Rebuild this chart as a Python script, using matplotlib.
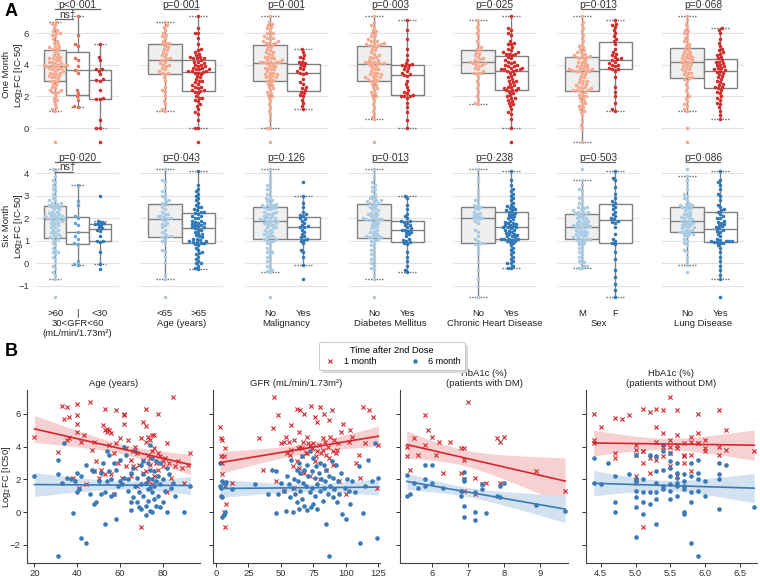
import numpy as np
import matplotlib
matplotlib.use("Agg")
import matplotlib.pyplot as plt
from matplotlib.lines import Line2D

plt.rcParams['font.family'] = ['Liberation Sans', 'DejaVu Sans']

# ---------------- Panel A data : one month Log2FC [IC-50] ----------------
m1_gfr_gt60 = [6.7, 6.6, 6.5, 6.3, 6.2, 6.1, 6.0, 6.0, 5.9, 5.8, 5.6, 5.5, 5.4, 5.3, 5.2, 5.1, 5.1, 5.0, 5.0,
               4.9, 4.8, 4.7, 4.6, 4.5, 4.5, 4.4, 4.4, 4.3, 4.3, 4.2, 4.2, 4.1, 4.1, 4.0, 4.0, 4.0, 3.95, 3.9,
               3.9, 3.85, 3.8, 3.8, 3.7, 3.7, 3.6, 3.6, 3.5, 3.5, 3.4, 3.4, 3.3, 3.3, 3.2, 3.2, 3.1, 3.0, 3.0,
               2.9, 2.8, 2.7, 2.6, 2.5, 2.4, 2.4, 2.3, 2.3, 2.2, 2.0, 1.9, 1.8, 1.7, 1.5, 1.3, 1.2, 1.1, -0.9]
m1_gfr_30_60 = [7.1, 5.9, 5.3, 5.2, 4.4, 4.3, 3.9, 3.65, 3.5, 2.4, 2.2, 2.0, 1.8, 1.4, 1.35]
m1_gfr_lt30 = [5.3, 4.5, 4.3, 3.7, 3.7, 3.6, 3.4, 3.1, 3.05, 3.0, 2.4, 1.9, 1.85, 1.85, 0.5, 0.0, 0.0, -0.9]
m1_age_lt65 = [6.7, 6.5, 6.4, 6.2, 6.0, 5.9, 5.8, 5.7, 5.5, 5.4, 5.4, 5.3, 5.2, 5.1, 5.0, 4.9, 4.8, 4.7, 4.6,
               4.5, 4.4, 4.35, 4.3, 4.2, 4.1, 4.0, 4.0, 3.9, 3.8, 3.7, 3.6, 3.5, 3.45, 3.4, 3.2, 3.0, 2.6,
               2.4, 2.3, 2.0, 1.7, 1.5, 1.2, 1.1]
m1_age_gt65 = [7.1, 6.3, 6.0, 6.0, 5.7, 5.3, 5.0, 4.9, 4.8, 4.7, 4.6, 4.5, 4.5, 4.4, 4.4, 4.4,
               4.3, 4.2, 4.2, 4.1, 4.0, 4.0, 3.9, 3.9, 3.8, 3.8, 3.7, 3.7, 3.7, 3.6, 3.6, 3.6, 3.55,
               3.5, 3.5, 3.4, 3.3, 3.2, 3.1, 3.0, 3.0, 2.9, 2.8, 2.7, 2.6, 2.6, 2.5, 2.4, 2.4, 2.35,
               2.3, 2.2, 2.0, 1.9, 1.9, 1.8, 1.7, 1.5, 1.4, 1.2, 1.0, 0.9, 0.5, 0.0, 0.0, -0.9]
m1_malig_no = [7.1, 6.7, 6.6, 6.5, 6.4, 6.3, 6.2, 6.0, 6.0, 5.9, 5.8, 5.7, 5.7, 5.6, 5.5, 5.5, 5.4, 5.4, 5.35, 5.3,
               5.2, 5.1, 5.0, 4.9, 4.8, 4.8, 4.7, 4.6, 4.5, 4.5, 4.4, 4.4, 4.3, 4.3, 4.2, 4.2, 4.2, 4.15, 4.15, 4.1,
               4.1, 4.0, 3.9, 3.9, 3.8, 3.8, 3.7, 3.7, 3.6, 3.5, 3.5, 3.4, 3.4, 3.3, 3.3, 3.2, 3.2, 3.1, 3.05, 3.0,
               2.9, 2.8, 2.7, 2.6, 2.5, 2.4, 2.3, 2.2, 2.1, 2.0, 1.9, 1.7, 1.5, 1.3, 1.1, 0.9, 0.5, 0.0, 0.0, -0.9]
m1_malig_yes = [5.0, 4.8, 4.6, 4.5, 4.4, 4.2, 4.15, 4.1, 4.0, 3.9, 3.8, 3.7, 3.6, 3.5, 3.5,
                3.4, 3.1, 2.9, 2.8, 2.6, 2.5, 2.4, 2.3, 2.2, 2.1, 2.0, 1.8, 1.6, 1.4, 1.2]
m1_dm_no = [7.1, 6.7, 6.5, 6.4, 6.2, 6.1, 6.0, 5.9, 5.8, 5.7, 5.6, 5.5, 5.5, 5.4, 5.4, 5.3, 5.3, 5.25, 5.25,
            5.2, 5.1, 5.0, 4.9, 4.8, 4.7, 4.6, 4.5, 4.5, 4.4, 4.3, 4.3, 4.2, 4.2, 4.15, 4.1, 4.1, 4.1, 4.1,
            4.0, 3.95, 3.9, 3.8, 3.7, 3.7, 3.6, 3.5, 3.5, 3.4, 3.4, 3.3, 3.3, 3.2, 3.2, 3.1, 3.1, 3.05, 3.0,
            2.9, 2.8, 2.7, 2.6, 2.5, 2.4, 2.3, 2.2, 2.1, 2.0, 1.9, 1.7, 1.5, 1.3, 1.1, 0.9, 0.7, 0.55, -0.9]
m1_dm_yes = [6.8, 6.2, 5.6, 5.0, 4.6, 4.3, 4.1, 4.05, 4.0, 4.0, 3.9, 3.8, 3.7, 3.6, 3.5, 3.4, 3.35,
             3.3, 3.0, 2.8, 2.6, 2.4, 2.3, 2.2, 2.1, 2.05, 2.0, 2.0, 1.9, 1.6, 1.3, 1.0, 0.5, 0.0]
m1_chd_no = [6.8, 6.6, 6.4, 6.2, 6.0, 5.8, 5.5, 5.3, 5.1, 5.0, 4.9, 4.8, 4.7, 4.6, 4.5, 4.4, 4.35, 4.3, 4.2, 4.2,
             4.1, 4.1, 4.0, 4.0, 3.9, 3.8, 3.7, 3.6, 3.5, 3.5, 3.4, 3.2, 3.0, 2.8, 2.5, 2.3, 2.0, 1.8, 1.6, 1.5]
m1_chd_yes = [7.1, 6.3, 6.2, 6.0, 5.9, 5.5, 5.4, 5.3, 5.3, 5.1, 5.0, 4.9, 4.8, 4.8, 4.7, 4.7, 4.7,
              4.6, 4.5, 4.4, 4.3, 4.2, 4.2, 4.1, 4.0, 4.0, 3.9, 3.9, 3.8, 3.8, 3.7, 3.7, 3.7, 3.65, 3.6,
              3.6, 3.5, 3.4, 3.3, 3.2, 3.1, 3.0, 3.0, 2.9, 2.8, 2.7, 2.6, 2.6, 2.5, 2.5, 2.4, 2.4, 2.4,
              2.3, 2.2, 2.1, 2.0, 1.9, 1.9, 1.8, 1.7, 1.6, 1.5, 1.4, 1.2, 1.0, 0.9, 0.55, 0.0, -0.9]
m1_sex_m = [7.1, 6.7, 6.5, 6.3, 6.1, 5.9, 5.7, 5.5, 5.3, 5.2, 5.1, 5.0, 4.9, 4.8, 4.8, 4.7, 4.6, 4.6, 4.55, 4.5,
            4.5, 4.4, 4.4, 4.3, 4.2, 4.2, 4.1, 4.0, 4.0, 3.9, 3.9, 3.8, 3.8, 3.75, 3.7, 3.7, 3.65, 3.6, 3.6, 3.6,
            3.6, 3.5, 3.4, 3.3, 3.2, 3.1, 3.0, 3.0, 2.9, 2.8, 2.8, 2.7, 2.6, 2.6, 2.5, 2.5, 2.4, 2.4, 2.4, 2.35,
            2.3, 2.2, 2.1, 2.0, 2.0, 1.9, 1.8, 1.7, 1.6, 1.5, 1.4, 1.3, 1.2, 1.1, 1.0, 0.8, 0.5, 0.2, 0.0, -0.9]
m1_sex_f = [6.8, 6.6, 6.5, 6.4, 6.2, 6.0, 5.8, 5.65, 5.5, 5.3, 5.0, 4.8, 4.7, 4.6, 4.5, 4.4, 4.35,
            4.3, 4.2, 4.1, 4.0, 4.0, 3.9, 3.8, 3.7, 3.7, 3.6, 3.2, 2.6, 2.3, 2.0, 1.6, 1.2, 1.1]
m1_lung_no = [7.1, 6.8, 6.6, 6.4, 6.2, 6.1, 6.0, 5.9, 5.7, 5.6, 5.5, 5.4, 5.3, 5.2, 5.1,
              5.0, 4.9, 4.8, 4.8, 4.7, 4.6, 4.6, 4.5, 4.5, 4.4, 4.4, 4.3, 4.3, 4.2, 4.2,
              4.1, 4.1, 4.0, 3.9, 3.9, 3.8, 3.7, 3.7, 3.6, 3.5, 3.5, 3.4, 3.3, 3.2, 3.15,
              3.1, 3.0, 2.8, 2.6, 2.4, 2.2, 2.0, 1.9, 1.7, 1.5, 1.4, 1.2, 1.1, 0.0, -0.9]
m1_lung_yes = [6.3, 6.2, 6.0, 5.6, 5.4, 5.2, 5.0, 4.9, 4.8, 4.7, 4.6, 4.5,
               4.4, 4.3, 4.2, 4.2, 4.1, 4.0, 4.0, 3.9, 3.8, 3.8, 3.7, 3.65, 3.6,
               3.55, 3.5, 3.4, 3.3, 3.2, 3.1, 3.0, 2.9, 2.8, 2.7, 2.6, 2.6, 2.5,
               2.4, 2.3, 2.2, 2.0, 1.9, 1.8, 1.6, 1.5, 1.3, 1.1, 0.8, 0.55]

# ---------------- Panel A data : six month Log2FC [IC-50] ----------------
m6_gfr_gt60 = [4.2, 4.1, 3.9, 3.7, 3.6, 3.5, 3.4, 3.3, 3.2, 3.1, 3.0, 2.9, 2.8, 2.8, 2.7, 2.7, 2.65, 2.6, 2.6,
               2.55, 2.5, 2.5, 2.4, 2.4, 2.3, 2.3, 2.25, 2.2, 2.2, 2.15, 2.1, 2.1, 2.1, 2.05, 2.0, 2.0, 2.0, 2.0,
               1.95, 1.9, 1.9, 1.85, 1.8, 1.8, 1.7, 1.7, 1.6, 1.6, 1.5, 1.5, 1.4, 1.4, 1.3, 1.3, 1.2, 1.2, 1.15,
               1.1, 1.1, 1.0, 0.9, 0.8, 0.7, 0.6, 0.5, 0.5, 0.4, 0.3, 0.2, 0.0, -0.1, -0.2, -0.4, -0.5, -0.7, -1.5]
m6_gfr_30_60 = [3.5, 2.75, 2.6, 2.1, 2.0, 1.8, 1.7, 1.4, 1.2, 1.1, 0.9, 0.85, 0.1, -0.05, -0.08]
m6_gfr_lt30 = [3.0, 1.9, 1.85, 1.8, 1.75, 1.75, 1.7, 1.6, 1.55, 1.5, 1.45, 1.2, 1.0, 1.0, 0.95, 0.5, -0.05, -0.25]
m6_age_lt65 = [4.2, 3.7, 3.6, 3.4, 3.2, 3.1, 3.0, 2.9, 2.8, 2.75, 2.7,
               2.6, 2.5, 2.4, 2.3, 2.2, 2.2, 2.1, 2.1, 2.05, 2.0, 2.0,
               1.95, 1.9, 1.8, 1.75, 1.7, 1.6, 1.5, 1.4, 1.3, 1.2, 1.2,
               1.15, 1.1, 1.0, 0.9, 0.6, 0.5, 0.3, 0.0, -0.5, -0.7, -1.5]
m6_age_gt65 = [4.1, 3.5, 3.3, 3.2, 3.1, 3.0, 2.9, 2.8, 2.7, 2.6, 2.5, 2.5, 2.4, 2.35, 2.3, 2.3,
               2.25, 2.2, 2.1, 2.1, 2.0, 2.0, 1.9, 1.9, 1.85, 1.8, 1.8, 1.75, 1.7, 1.7, 1.65, 1.6, 1.6,
               1.55, 1.5, 1.5, 1.4, 1.35, 1.3, 1.25, 1.2, 1.15, 1.1, 1.1, 1.05, 1.0, 1.0, 0.95, 0.95, 0.9,
               0.9, 0.85, 0.8, 0.7, 0.6, 0.5, 0.45, 0.4, 0.3, 0.2, 0.1, 0.0, 0.0, -0.1, -0.2, -0.25]
m6_malig_no = [4.2, 4.0, 3.8, 3.6, 3.5, 3.4, 3.3, 3.2, 3.1, 3.0, 2.9, 2.85, 2.8, 2.75, 2.7, 2.65, 2.6, 2.6, 2.6, 2.55,
               2.5, 2.5, 2.45, 2.4, 2.4, 2.3, 2.3, 2.25, 2.2, 2.2, 2.1, 2.1, 2.05, 2.0, 2.0, 1.95, 1.95, 1.9, 1.9, 1.9,
               1.85, 1.8, 1.8, 1.75, 1.7, 1.7, 1.6, 1.6, 1.55, 1.5, 1.5, 1.4, 1.4, 1.3, 1.3, 1.2, 1.2, 1.15, 1.1, 1.1,
               1.05, 1.0, 1.0, 0.9, 0.8, 0.7, 0.6, 0.5, 0.5, 0.4, 0.3, 0.2, 0.1, 0.0, -0.1, -0.2, -0.3, -0.35, -0.4, -1.5]
m6_malig_yes = [3.6, 3.0, 2.7, 2.5, 2.3, 2.2, 2.15, 2.1, 2.0, 1.95, 1.9, 1.8, 1.7, 1.65, 1.6,
                1.6, 1.5, 1.4, 1.3, 1.2, 1.15, 1.1, 1.05, 1.0, 0.9, 0.6, 0.5, 0.3, -0.08, -0.71]
m6_dm_no = [4.2, 4.0, 3.8, 3.6, 3.5, 3.4, 3.3, 3.2, 3.1, 3.0, 2.95, 2.9, 2.85, 2.8, 2.8, 2.75, 2.7, 2.7, 2.7,
            2.6, 2.55, 2.5, 2.45, 2.4, 2.35, 2.3, 2.25, 2.2, 2.2, 2.15, 2.1, 2.05, 2.0, 2.0, 1.95, 1.95, 1.95, 1.92,
            1.9, 1.85, 1.8, 1.75, 1.7, 1.65, 1.6, 1.55, 1.5, 1.45, 1.4, 1.35, 1.3, 1.25, 1.2, 1.2, 1.15, 1.15, 1.15,
            1.1, 1.05, 1.0, 0.9, 0.8, 0.7, 0.6, 0.5, 0.4, 0.3, 0.2, 0.1, 0.0, -0.1, -0.2, -0.3, -0.5, -0.7, -1.5]
m6_dm_yes = [3.0, 2.9, 2.6, 2.4, 2.2, 2.1, 2.0, 1.9, 1.9, 1.85, 1.8, 1.7, 1.7, 1.6, 1.55, 1.5, 1.5,
             1.45, 1.4, 1.35, 1.3, 1.2, 1.1, 1.05, 1.0, 0.95, 0.9, 0.85, 0.5, 0.3, 0.1, -0.1, -0.3, -0.4]
m6_chd_no = [4.2, 3.8, 3.6, 3.3, 3.1, 2.9, 2.8, 2.7, 2.6, 2.55, 2.5, 2.45, 2.4, 2.3, 2.25, 2.2, 2.15, 2.1, 2.05, 2.0,
             2.0, 1.95, 1.9, 1.8, 1.5, 1.4, 1.2, 1.1, 1.0, 0.9, 0.9, 0.85, 0.8, 0.6, 0.4, 0.1, -0.3, -0.7, -1.0, -1.5]
m6_chd_yes = [4.1, 3.7, 3.5, 3.3, 3.2, 3.1, 3.0, 2.9, 2.8, 2.7, 2.6, 2.55, 2.5, 2.45, 2.4, 2.35, 2.35,
              2.3, 2.25, 2.2, 2.15, 2.1, 2.05, 2.0, 1.95, 1.9, 1.85, 1.8, 1.8, 1.75, 1.7, 1.7, 1.65, 1.6, 1.6,
              1.6, 1.55, 1.5, 1.5, 1.45, 1.4, 1.35, 1.3, 1.3, 1.25, 1.2, 1.2, 1.15, 1.1, 1.1, 1.1, 1.1, 1.05,
              1.0, 1.0, 0.95, 0.9, 0.8, 0.7, 0.6, 0.5, 0.4, 0.3, 0.2, 0.1, 0.0, 0.0, -0.1, -0.2, -0.22]
m6_sex_m = [4.2, 3.7, 3.5, 3.3, 3.2, 3.0, 2.9, 2.8, 2.7, 2.6, 2.5, 2.5, 2.45, 2.4, 2.35, 2.3, 2.3, 2.3, 2.25,
            2.2, 2.2, 2.15, 2.1, 2.05, 2.0, 2.0, 1.95, 1.9, 1.9, 1.85, 1.8, 1.8, 1.75, 1.7, 1.7, 1.7, 1.65, 1.65,
            1.6, 1.6, 1.55, 1.5, 1.5, 1.45, 1.4, 1.4, 1.35, 1.3, 1.3, 1.25, 1.2, 1.2, 1.15, 1.1, 1.1, 1.1, 1.1,
            1.05, 1.0, 0.95, 0.9, 0.85, 0.8, 0.7, 0.6, 0.5, 0.4, 0.3, 0.2, 0.1, 0.05, 0.0, -0.1, -0.1, -0.2, -0.22]
m6_sex_f = [4.1, 3.8, 3.7, 3.4, 3.1, 2.9, 2.75, 2.7, 2.6, 2.5, 2.4, 2.3, 2.2, 2.1, 2.0, 1.95,
            1.9, 1.85, 1.8, 1.6, 1.3, 1.1, 1.0, 0.9, 0.85, 0.5, 0.2, -0.3, -0.6, -0.9, -1.2, -1.5]
m6_lung_no = [4.2, 3.9, 3.7, 3.5, 3.3, 3.1, 3.0, 2.9, 2.8, 2.7, 2.65, 2.6, 2.6, 2.55, 2.5,
              2.5, 2.45, 2.4, 2.35, 2.3, 2.25, 2.2, 2.15, 2.1, 2.05, 2.0, 2.0, 1.95, 1.9, 1.9,
              1.85, 1.8, 1.8, 1.75, 1.7, 1.7, 1.65, 1.6, 1.6, 1.55, 1.5, 1.5, 1.45, 1.4, 1.4,
              1.35, 1.3, 1.3, 1.25, 1.2, 1.1, 1.0, 0.9, 0.8, 0.6, 0.5, 0.3, 0.1, -0.08, -0.4]
m6_lung_yes = [4.1, 3.7, 3.6, 3.5, 3.3, 3.1, 3.0, 2.8, 2.6, 2.5, 2.4, 2.35,
               2.3, 2.2, 2.1, 2.0, 2.0, 1.9, 1.85, 1.8, 1.75, 1.7, 1.65, 1.6, 1.55,
               1.5, 1.45, 1.4, 1.3, 1.2, 1.1, 1.05, 1.0, 1.0, 1.0, 1.0, 0.95, 0.95,
               0.9, 0.9, 0.8, 0.7, 0.5, 0.3, 0.1, -0.1, -0.3, -0.5, -0.71, -1.5]

tick_labels = [[">60", "|", "<30"], ["<65", ">65"], ["No", "Yes"], ["No", "Yes"],
               ["No", "Yes"], ["M", "F"], ["No", "Yes"]]
x_titles = ["30<GFR<60\n(mL/min/1.73m²)", "Age (years)", "Malignancy", "Diabetes Mellitus",
            "Chronic Heart Disease", "Sex", "Lung Disease"]
p_one = ["p<0·001", "p=0·001", "p=0·001", "p=0·003", "p=0·025", "p=0·013", "p=0·068"]
p_six = ["p=0·020", "p=0·043", "p=0·126", "p=0·013", "p=0·238", "p=0·503", "p=0·086"]

groups_one = [[m1_gfr_gt60, m1_gfr_30_60, m1_gfr_lt30], [m1_age_lt65, m1_age_gt65],
              [m1_malig_no, m1_malig_yes], [m1_dm_no, m1_dm_yes], [m1_chd_no, m1_chd_yes],
              [m1_sex_m, m1_sex_f], [m1_lung_no, m1_lung_yes]]
groups_six = [[m6_gfr_gt60, m6_gfr_30_60, m6_gfr_lt30], [m6_age_lt65, m6_age_gt65],
              [m6_malig_no, m6_malig_yes], [m6_dm_no, m6_dm_yes], [m6_chd_no, m6_chd_yes],
              [m6_sex_m, m6_sex_f], [m6_lung_no, m6_lung_yes]]

# ---------------- Panel B data ----------------
age_1m_x = [20, 31, 33, 34, 35, 35, 36, 36, 38, 40, 40, 40, 40, 41, 42, 43, 44, 46, 47, 48, 48, 49, 50, 51, 52,
            53, 53, 53, 54, 54, 55, 55, 56, 56, 57, 57, 58, 58, 59, 60, 61, 62, 62, 62, 63, 63, 64, 65, 65, 66,
            66, 67, 67, 68, 68, 69, 70, 70, 71, 71, 71, 72, 72, 72, 72, 73, 73, 73, 74, 74, 74, 75, 75, 75, 76,
            76, 76, 77, 78, 78, 78, 79, 80, 80, 81, 82, 82, 83, 84, 85, 86, 87, 89, 90, 93, 92]
age_1m_y = [4.6, 3.65, 6.5, 5.7, 6.4, 4.4, 5.8, 4.5, 2.1, 6.6, 5.9, 5.35, 4.9, 1.5, 4.3, 4.7, 1.7, 6.7, 3.8, 4.3,
            2.5, 3.1, 2.1, 2.6, 5.3, 6.3, 5.0, 2.3, 4.9, 5.1, 5.0, 4.1, 4.8, 2.3, 3.6, 1.1, 6.2, 4.2, 3.0, 4.5,
            2.1, 5.95, 6.0, 5.4, 3.9, 2.8, 4.4, 3.2, 2.2, 3.7, 2.8, 4.0, 2.7, 3.6, 1.6, 2.9, -0.9, 4.5, 5.5, 3.2,
            2.4, 6.3, 5.25, 4.3, 2.5, 4.6, 3.5, 1.9, 4.4, 3.3, 2.9, 4.7, 3.7, 1.7, 4.7, 3.9, 2.2, 3.0, 6.0, 3.6,
            2.6, 3.4, 3.1, 2.8, 3.3, 4.2, 1.2, 3.0, 2.1, 7.0, 2.8, 3.1, 2.7, 1.8, 3.6, 2.9]
age_6m_x = [20, 31, 31, 31, 33, 34, 35, 37, 38, 39, 40, 40, 41, 42, 42, 44, 44, 46, 47, 48, 48, 49, 50, 51, 51,
            52, 53, 53, 54, 54, 55, 55, 56, 56, 57, 57, 58, 58, 59, 60, 60, 61, 62, 62, 63, 64, 64, 65, 65, 65,
            66, 66, 67, 67, 68, 68, 69, 69, 70, 70, 70, 71, 71, 71, 72, 72, 72, 73, 73, 73, 73, 74, 74, 74, 74,
            75, 75, 75, 75, 76, 76, 76, 77, 77, 77, 78, 78, 79, 79, 79, 80, 80, 81, 82, 82, 83, 84, 85, 86, 90, 93]
age_6m_y = [2.2, 3.2, -2.7, 2.3, 1.75, 4.2, 2.1, 2.0, -0.05, 1.9, 2.4, 1.2, 1.4, -1.55, 2.2, -1.9, 2.9, 1.1, 2.6,
            0.5, 2.5, 0.6, 1.9, 2.4, 1.1, 3.0, -0.7, 1.2, 3.7, 1.9, 3.5, 2.5, 1.0, 2.0, 3.0, 1.1, -0.4, 2.6, 1.6,
            3.2, 1.9, 1.7, 2.1, 4.0, 3.5, 2.0, 1.3, 0.15, 0.6, 2.4, 2.7, 0.9, 1.6, 3.7, 0.6, 2.1, 0.3, 1.2, 2.9,
            0.2, 1.7, 3.1, 2.3, 1.0, -0.2, 0.4, 1.8, 3.0, 2.1, 1.4, 0.7, 4.1, 2.6, 1.5, 0.1, 3.3, 2.0, 1.2, 0.0,
            2.5, 1.6, 0.8, 3.1, 1.9, 0.4, 2.2, 1.0, 3.0, 1.7, 0.3, 2.0, 0.6, 1.3, 2.7, 0.0, 2.3, 1.5, 1.8, 1.0,
            0.0, 1.6]

gfr_1m_x = [3, 4, 4, 5, 5, 5, 6, 6, 7, 7, 7, 8, 12, 33, 36, 44, 45, 46, 48, 50, 52, 52, 54, 55, 56, 57, 58, 58,
            59, 60, 60, 62, 62, 63, 64, 64, 65, 65, 66, 66, 67, 68, 68, 69, 70, 70, 71, 72, 72, 73, 74, 74, 75,
            76, 76, 77, 78, 78, 79, 80, 80, 81, 82, 82, 83, 84, 85, 85, 86, 87, 87, 88, 89, 90, 90, 91, 92, 93,
            94, 95, 96, 98, 100, 102, 103, 105, 108, 110, 111, 113, 115, 118, 121, 124, 125]
gfr_1m_y = [5.2, 4.5, 3.4, 4.4, 3.0, 2.3, 3.4, 0.0, 1.6, -0.9, 3.9, 0.5, 1.8, 4.5, 2.6, 5.15, 7.0, 1.9, 5.9, 4.2,
            4.3, 1.3, 4.6, 3.6, 4.3, 3.5, 3.8, 5.3, 2.8, 4.4, 1.5, 6.3, 3.1, 3.9, 4.9, 2.7, 6.2, 4.0, 3.9, 3.4,
            4.3, 6.0, 2.4, 3.6, 4.6, 3.6, 4.2, 4.1, 2.2, 6.5, 3.9, 3.9, 4.2, 5.8, 3.1, 3.4, 5.5, 3.7, 4.1, 6.4,
            2.0, 3.6, 4.5, 3.8, 6.0, 4.3, 3.5, 2.6, 4.0, 5.6, 3.3, 4.6, 6.2, 3.7, 2.9, 4.4, 3.6, 3.8, 4.2, 1.9,
            4.9, 5.4, 1.1, 4.3, 5.0, 4.6, 3.0, 3.5, 2.1, 6.4, 4.2, 6.2, 5.8, 1.5, 4.1]
gfr_6m_x = [3, 3, 4, 4, 5, 5, 5, 6, 6, 7, 7, 8, 12, 30, 40, 43, 46, 46, 48, 50, 52, 54, 55, 56, 57, 58, 59, 59,
            60, 61, 62, 62, 63, 64, 64, 65, 65, 66, 66, 67, 68, 68, 69, 70, 70, 71, 72, 72, 73, 74, 74, 75, 75,
            76, 76, 77, 78, 78, 79, 80, 80, 81, 82, 83, 83, 84, 85, 85, 86, 87, 87, 88, 89, 90, 90, 91, 92, 93,
            94, 95, 96, 97, 99, 100, 101, 102, 103, 105, 107, 110, 111, 113, 115, 117, 120, 122, 124, 125]
gfr_6m_y = [3.0, 1.6, 1.5, 1.0, 1.9, 0.9, -0.3, -0.15, 1.8, 0.0, 1.7, 1.85, 1.4, 1.7, 1.1, 2.6, 2.5, -0.05, 1.1,
            1.8, 1.3, 0.1, 2.2, 1.7, 0.9, 3.2, 1.5, 0.0, 2.0, 1.1, 2.6, 0.6, 1.9, 3.0, 0.2, 2.4, 1.3, 3.4, 0.8,
            1.8, 2.6, 0.4, 1.6, 2.9, 0.15, 2.2, 3.7, 1.2, 0.3, 2.5, 1.5, 3.3, 0.5, 2.1, 1.0, 2.8, 1.7, 0.2, 2.4,
            3.0, 1.3, 2.0, 0.7, 2.9, 1.5, 1.9, -0.7, 2.6, 1.1, -2.7, 2.2, 1.6, 3.1, 2.1, 0.9, 1.4, 2.9, 0.6, 1.9,
            1.1, 2.4, -0.1, 1.5, -0.4, 2.0, 1.3, 0.5, 1.9, 1.2, 2.8, -1.9, -0.05, 1.6, 3.2, 1.9, 4.2, -1.55, 2.1]

dm_1m_x = [5.3, 5.3, 5.4, 5.5, 5.6, 5.8, 5.8, 6.0, 6.1, 6.3, 6.5, 6.8, 6.8, 6.9, 6.9, 6.9, 6.9, 7.0, 7.2, 7.2,
           7.5, 7.8, 7.9, 7.9, 8.0, 8.9, 9.7, 7.4, 5.9, 6.2]
dm_1m_y = [4.0, 3.4, 2.6, 4.5, 3.5, 4.1, 5.9, 4.6, 3.5, 2.4, 4.3, 3.9, 2.4, 3.9, 3.2, 2.0, 1.3, 6.7, 2.1, 1.1,
           1.8, 4.5, 4.3, 1.8, 4.6, 2.5, 1.3, 1.7, 5.0, 4.3]
dm_6m_x = [5.3, 5.3, 5.4, 5.5, 5.6, 5.8, 5.8, 5.8, 6.0, 6.0, 6.3, 6.8, 6.8, 6.9, 6.9, 6.9, 6.9, 6.9, 7.2, 7.2,
           7.2, 7.4, 7.4, 7.5, 7.8, 7.9, 7.9, 8.0, 8.9, 9.7]
dm_6m_y = [2.25, 1.0, 1.1, 1.8, 1.5, 2.9, 2.0, 1.6, 2.85, 1.8, 1.45, 1.3, 1.0, 2.45, 2.0, 1.9, 0.4, -0.3, 1.2, 0.0,
           -0.45, 1.7, 1.4, -0.05, 1.0, 0.9, 1.6, 1.8, 0.45, 0.1]

nodm_1m_x = [4.4, 4.4, 4.4, 4.5, 4.7, 4.7, 4.7, 4.8, 4.9, 5.0, 5.0, 5.0, 5.0, 5.1, 5.1, 5.1, 5.1, 5.1, 5.2, 5.2,
             5.3, 5.3, 5.3, 5.3, 5.4, 5.4, 5.4, 5.4, 5.5, 5.5, 5.5, 5.5, 5.5, 5.6, 5.6, 5.6, 5.6, 5.7, 5.7, 5.7,
             5.7, 5.8, 5.8, 5.8, 5.8, 5.9, 5.9, 5.9, 5.9, 6.0, 6.0, 6.2, 6.2, 6.2, 6.3, 6.3, 6.0, 6.7, 5.2, 5.0, 5.6]
nodm_1m_y = [6.0, 4.4, 4.2, 5.2, 5.75, 3.6, 3.3, 5.7, 5.9, 4.1, 3.5, 2.2, 1.8, 6.3, 3.7, 3.7, 3.0, -0.9, 6.1, 3.3,
             6.3, 4.3, 5.2, 3.2, 6.2, 4.0, 4.8, 3.4, 7.0, 3.6, 4.4, 4.0, 2.8, 6.2, 4.1, 4.7, 3.9, 3.5, 3.4, 4.2,
             3.0, 4.6, 4.3, 3.5, 2.5, 6.0, 4.2, 4.8, 4.2, 4.4, 3.7, 6.2, 3.5, 4.0, 5.0, 3.8, 3.9, 3.7, 2.4, 3.8, 2.2]
nodm_6m_x = [4.4, 4.4, 4.5, 4.6, 4.7, 4.7, 4.7, 4.9, 5.0, 5.0, 5.0, 5.0, 5.0, 5.0, 5.1, 5.1, 5.1, 5.1, 5.2, 5.2,
             5.2, 5.3, 5.3, 5.3, 5.3, 5.3, 5.3, 5.4, 5.4, 5.4, 5.4, 5.5, 5.5, 5.5, 5.5, 5.5, 5.5, 5.6, 5.6, 5.6,
             5.6, 5.6, 5.6, 5.7, 5.7, 5.7, 5.7, 5.7, 5.7, 5.8, 5.8, 5.8, 5.8, 5.9, 5.9, 5.9, 5.9, 5.9, 6.0, 6.0,
             6.2, 6.2, 6.2, 6.2, 6.3, 6.7, 5.4, 5.5, 5.8, 5.0]
nodm_6m_y = [3.3, 1.8, 1.7, 3.0, 0.6, 0.0, 2.2, 2.3, 2.0, 1.9, 0.9, 0.3, -1.5, 3.5, 1.2, 0.6, -0.1, 2.0, 3.5, 1.2,
             0.5, 2.5, 1.8, 1.2, 0.8, -0.7, 3.4, 4.1, 2.6, 1.6, 1.4, 3.1, 2.7, 2.2, 1.7, 1.3, 0.8, 3.0, 2.4, 2.1,
             1.8, 1.6, 1.0, 2.3, 1.9, 1.6, 1.4, 0.0, -0.1, 2.2, 1.2, 0.6, -1.9, 3.2, 2.4, 2.0, 1.3, -2.7, 1.9, 1.0,
             3.0, 2.3, 2.0, 0.2, 2.9, 0.3, 3.7, 3.6, 3.0, 1.3]

# ---------------- styles ----------------
W, H = 760, 577
fig = plt.figure(figsize=(7.6, 5.77), dpi=100)


def px_axes(x0, y0, x1, y1):
    return fig.add_axes([x0 / W, 1 - y1 / H, (x1 - x0) / W, (y1 - y0) / H])


RED_L, RED_M, RED_D = '#f6a98e', '#ec6c56', '#d42b2b'
BLUE_L, BLUE_M, BLUE_D = '#a9cbe4', '#67a5d6', '#2f78b8'
BOX_EC = '#808080'
FS = 6.8


def swarm_offsets(ypix, d):
    order = np.argsort(ypix, kind='stable')
    px_list, py_list = [], []
    xs = np.zeros(len(ypix))
    for i in order:
        y = ypix[i]
        if px_list:
            pxa = np.array(px_list)
            pya = np.array(py_list)
            near = np.abs(pya - y) < d
            nx, ny = pxa[near], pya[near]
        else:
            nx, ny = np.array([]), np.array([])
        cands = [0.0]
        for a, b in zip(nx, ny):
            dx = np.sqrt(max(d * d - (b - y) ** 2, 0.0))
            cands += [a + dx, a - dx]
        cands = sorted(cands, key=lambda c: (abs(c), c))
        for c in cands:
            if len(nx) == 0 or np.all((nx - c) ** 2 + (ny - y) ** 2 >= d * d - 1e-6):
                xs[i] = c
                break
        px_list.append(xs[i])
        py_list.append(y)
    return xs


col_left = [36, 140, 245, 349, 453, 557, 662]
col_w = 83


def draw_row(groups, y0px, y1px, ylim, yticks, light, mid, dark, pvals, ptext_y, ns_y, bottom,
             ylabel):
    axes = []
    for c, gl in enumerate(groups):
        ax = px_axes(col_left[c], y0px, col_left[c] + col_w, y1px)
        ax.set_xlim(-0.5, 0.5)
        ax.set_ylim(*ylim)
        n = len(gl)
        w = 0.8 / n
        pos = [-0.4 + w * (k + 0.5) for k in range(n)]
        bp = ax.boxplot(gl, positions=pos, widths=w, patch_artist=True, showfliers=False,
                        whis=1.5, capwidths=w * 0.55, manage_ticks=False,
                        boxprops=dict(edgecolor=BOX_EC, linewidth=1.0),
                        medianprops=dict(color=BOX_EC, linewidth=1.0),
                        whiskerprops=dict(color=BOX_EC, linewidth=1.0),
                        capprops=dict(color='#666666', linewidth=1.0, linestyle=(0, (1, 1))))
        for k, patch in enumerate(bp['boxes']):
            patch.set_facecolor('#efefef' if k == 0 else 'white')
            patch.set_zorder(2)
        ax_h_px = y1px - y0px
        ppu_x = col_w / 1.0
        ppu_y = ax_h_px / (ylim[1] - ylim[0])
        cols = [light, mid, dark] if n == 3 else [light, dark]
        for k, vals in enumerate(gl):
            v = np.array(vals, dtype=float)
            offs = swarm_offsets(v * ppu_y, 3.3)
            ax.scatter(pos[k] + offs / ppu_x, v, s=6.5, color=cols[k], linewidths=0, zorder=4)
        ax.set_yticks(yticks)
        ax.grid(axis='y', color='#e2e2e2', linewidth=0.8)
        ax.set_axisbelow(True)
        for sp in ax.spines.values():
            sp.set_visible(False)
        ax.tick_params(axis='both', length=0, labelsize=FS, pad=5, colors='#333333')
        if c == 0:
            ax.set_yticklabels([str(t).replace('-', '\u2212') for t in yticks])
            ax.set_ylabel(ylabel, fontsize=FS, color='#222222', linespacing=1.15)
            ax.yaxis.set_label_coords((25 - col_left[0]) / col_w, 0.5)
        else:
            ax.set_yticklabels([])
        if bottom:
            ax.set_xticks(pos)
            ax.set_xticklabels(tick_labels[c], fontsize=FS, color='#222222')
            ax.set_xlabel(x_titles[c], fontsize=FS, color='#222222', labelpad=1, linespacing=1.1)
        else:
            ax.set_xticks([])
        span = ylim[1] - ylim[0]
        ax.plot([pos[0], pos[-1]], [ptext_y, ptext_y], color='#666666', lw=0.9, clip_on=False,
                zorder=5)
        ax.text(0.5 * (pos[0] + pos[-1]), ptext_y + 0.012 * span, pvals[c],
                ha='center', va='baseline', fontsize=7.4, color='#333333', clip_on=False)
        if n == 3:
            ax.plot([pos[0], -0.05], [ns_y, ns_y], color='#666666', lw=0.9, clip_on=False, zorder=5)
            ax.text(-0.125, ns_y + 0.012 * span, 'ns\u2020', ha='center', va='baseline',
                    fontsize=7.4, color='#333333', clip_on=False, zorder=6)
        axes.append(ax)
    return axes


draw_row(groups_one, 2, 148, (-1.26, 7.96), [0, 2, 4, 6], RED_L, RED_M, RED_D, p_one,
         7.5, 6.87, False, 'One Month\nLog$_2$FC [IC-50]')
draw_row(groups_six, 150, 302, (-1.72, 5.04), [-1, 0, 1, 2, 3, 4], BLUE_L, BLUE_M, BLUE_D, p_six,
         4.49, 4.06, True, 'Six Month\nLog$_2$FC [IC-50]')

fig.text(5 / W, 1 - 11 / H, 'A', fontsize=13, fontweight='bold', va='center', ha='left')
fig.text(5 / W, 1 - 351 / H, 'B', fontsize=13, fontweight='bold', va='center', ha='left')

# ---------------- Panel B ----------------
RED_B = '#d6262d'
BLUE_B = '#3c7ab6'


def reg_band(ax, x, y, color, band):
    x = np.asarray(x, dtype=float)
    y = np.asarray(y, dtype=float)
    b, a = np.polyfit(x, y, 1)
    xg = np.linspace(x.min(), x.max(), 100)
    yg = a + b * xg
    n = len(x)
    resid = y - (a + b * x)
    s = np.sqrt(np.sum(resid ** 2) / (n - 2))
    sxx = np.sum((x - x.mean()) ** 2)
    se = s * np.sqrt(1.0 / n + (xg - x.mean()) ** 2 / sxx)
    t = 1.98
    ax.fill_between(xg, yg - t * se, yg + t * se, color=band, lw=0, zorder=1)
    ax.plot(xg, yg, color=color, lw=1.2, zorder=3)


b_specs = [
    ((27, 200), (16.5, 97.5), [20, 40, 60, 80], None, 'Age (years)',
     age_1m_x, age_1m_y, age_6m_x, age_6m_y),
    ((213, 380), (-2.3, 126.2), [0, 25, 50, 75, 100, 125], None, 'GFR (mL/min/1.73m²)',
     gfr_1m_x, gfr_1m_y, gfr_6m_x, gfr_6m_y),
    ((400, 568), (5.11, 9.78), [6, 7, 8, 9], None, 'HbA1c (%)\n(patients with DM)',
     dm_1m_x, dm_1m_y, dm_6m_x, dm_6m_y),
    ((586, 757), (4.29, 6.74), [4.5, 5.0, 5.5, 6.0, 6.5], ['4.5', '5.0', '5.5', '6.0', '6.5'],
     'HbA1c (%)\n(patients without DM)', nodm_1m_x, nodm_1m_y, nodm_6m_x, nodm_6m_y),
]

for i, (xr, xlim, xt, xtl, title, x1, y1, x6, y6) in enumerate(b_specs):
    ax = px_axes(xr[0], 390, xr[1], 563)
    ax.set_xlim(*xlim)
    ax.set_ylim(-3.1, 7.45)
    reg_band(ax, x1, y1, RED_B, '#f7d0d2')
    reg_band(ax, x6, y6, BLUE_B, '#d3e2f0')
    ax.scatter(x1, y1, marker='x', s=9, color=RED_B, linewidths=0.8, zorder=2)
    ax.scatter(x6, y6, marker='o', s=11, color=BLUE_B, linewidths=0, zorder=2)
    ax.set_xticks(xt)
    if xtl is not None:
        ax.set_xticklabels(xtl)
    ax.set_yticks([-2, 0, 2, 4, 6])
    for sp in ['top', 'right']:
        ax.spines[sp].set_visible(False)
    for sp in ['left', 'bottom']:
        ax.spines[sp].set_color('#444444')
        ax.spines[sp].set_linewidth(0.8)
    ax.tick_params(length=3, width=0.7, labelsize=FS, colors='#333333', pad=1.5)
    ax.set_title(title, fontsize=FS, color='#222222', pad=3, linespacing=1.1)
    if i == 0:
        ax.set_ylabel('Log$_2$FC [IC50]', fontsize=FS, color='#222222')
        ax.yaxis.set_label_coords((13 - xr[0]) / (xr[1] - xr[0]), 0.5)
    else:
        ax.set_yticklabels([])

handles = [Line2D([], [], marker='x', ls='', color=RED_B, ms=3.5, mew=0.8),
           Line2D([], [], marker='o', ls='', color=BLUE_B, ms=3.2, mew=0)]
leg = fig.legend(handles, ['1 month', '6 month'], title='Time after 2nd Dose', ncol=2,
                 loc='center', bbox_to_anchor=(392 / W, 1 - 356 / H), fontsize=6.5,
                 title_fontsize=6.7, frameon=True, columnspacing=3.5, handletextpad=0.8,
                 borderpad=0.4, labelspacing=0.2, handlelength=1.5,
                 shadow={'color': '#d9d9d9', 'alpha': 1.0})
leg.get_frame().set_edgecolor('#cccccc')
leg.get_frame().set_linewidth(0.8)

fig.savefig('out.png', dpi=100)
